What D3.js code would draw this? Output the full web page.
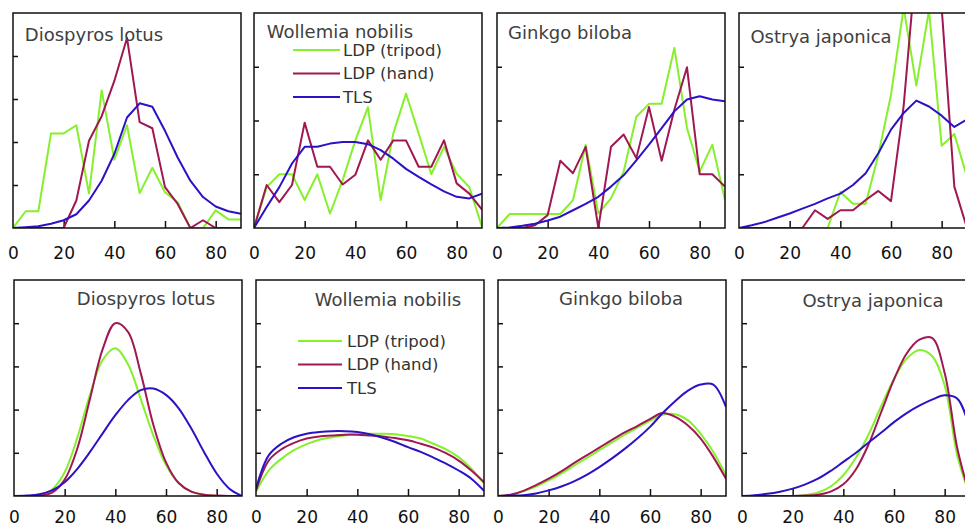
<!DOCTYPE html>
<html><head><meta charset="utf-8">
<script src="https://cdn.jsdelivr.net/npm/d3@7"></script>
<style>html,body{margin:0;padding:0;background:#fff;} svg{display:block;}</style>
</head><body><svg id="chart" width="965" height="528"></svg>
<script>
// ---------- data ----------
const angles = [0,5,10,15,20,25,30,35,40,45,50,55,60,65,70,75,80,85,90];
const xTickValues = [20,40,60,80];
const xTickLabels = [0,20,40,60,80];
const species = ["Diospyros lotus","Wollemia nobilis","Ginkgo biloba","Ostrya japonica"];
const seriesNames = ["LDP (tripod)","LDP (hand)","TLS"];

// top row: observed leaf angle frequencies (5° classes)
const obsDiospyrosTripod = [0,0.39,0.39,2.2,2.2,2.39,0.8,3.2,1.59,2.39,0.81,1.4,0.83,0.6,0,0,0.41,0.2,0.2];
const obsDiospyrosHand   = [0,0,0,0,0,0.64,2.03,2.6,3.42,4.42,2.46,2.32,0.95,0.56,0,0.18,0,0,0];
const obsDiospyrosTLS    = [0,0.02,0.04,0.1,0.18,0.32,0.64,1.1,1.72,2.57,2.9,2.82,2.26,1.64,1.1,0.72,0.5,0.39,0.33];

const obsWollemiaTripod = [0,0.76,1.0,1.0,0.52,1.0,0.27,0.89,1.63,2.25,0.52,1.76,2.5,1.76,1.0,1.51,1.01,0.76,0.02];
const obsWollemiaHand   = [0,0.8,0.48,0.8,1.96,1.14,1.14,0.81,0.99,1.63,1.27,1.63,1.63,1.14,1.14,1.63,0.83,0.64,0.34];
const obsWollemiaTLS    = [0,0.39,0.76,1.2,1.51,1.51,1.57,1.6,1.6,1.56,1.45,1.29,1.1,0.95,0.81,0.68,0.58,0.55,0.64];

const obsGinkgoTripod = [0,0.26,0.26,0.26,0.26,0.26,0.52,1.55,0.27,0.55,1.05,2.07,2.31,2.31,3.35,1.86,1.05,1.55,0.52];
const obsGinkgoHand   = [0,0,0,0.05,0.24,1.25,1.02,1.51,0,1.51,1.74,1.3,2.25,1.25,2.2,2.99,1.0,1.0,0.77];
const obsGinkgoTLS    = [0,0.01,0.04,0.08,0.14,0.21,0.33,0.45,0.58,0.77,0.98,1.26,1.55,1.86,2.17,2.39,2.45,2.39,2.36];

const obsOstryaTripod = [0,0,0,0,0,0,0,0,0.67,0.45,0.45,1.36,2.48,4.1,2.65,4.05,1.53,1.75,0.95];
const obsOstryaHand   = [0,0,0,0,0,0,0.33,0.17,0.33,0.33,0.52,0.69,0.5,2.27,5.0,5.5,4.1,0.77,0];
const obsOstryaTLS    = [0,0.05,0.11,0.19,0.27,0.36,0.45,0.55,0.64,0.8,1.02,1.39,1.83,2.14,2.37,2.26,2.09,1.88,2.02];

// bottom row: fitted distributions
const fitDiospyrosTripod = [0,0,0.02,0.15,0.55,1.35,2.35,3.15,3.42,3.05,2.25,1.4,0.72,0.3,0.1,0.03,0,0,0];
const fitDiospyrosHand   = [0,0,0.01,0.08,0.38,1.1,2.25,3.4,4.0,3.8,2.85,1.65,0.78,0.3,0.1,0.03,0.01,0,0];
const fitDiospyrosTLS    = [0,0.01,0.04,0.13,0.32,0.63,1.02,1.45,1.87,2.22,2.45,2.49,2.34,2.03,1.56,1.02,0.52,0.17,0];

const fitWollemiaTripod = [0.1,0.59,0.86,1.06,1.2,1.3,1.36,1.4,1.43,1.44,1.44,1.43,1.39,1.33,1.21,1.08,0.9,0.63,0.29];
const fitWollemiaHand   = [0.13,0.82,1.08,1.23,1.33,1.38,1.4,1.42,1.42,1.4,1.38,1.34,1.29,1.21,1.12,0.99,0.82,0.59,0.32];
const fitWollemiaTLS    = [0.17,0.94,1.21,1.36,1.44,1.48,1.5,1.5,1.48,1.43,1.35,1.25,1.13,1.02,0.89,0.75,0.59,0.4,0.12];

const fitGinkgoTripod = [0,0.03,0.11,0.22,0.36,0.52,0.7,0.88,1.06,1.24,1.42,1.58,1.74,1.88,1.89,1.75,1.44,1.02,0.48];
const fitGinkgoHand   = [0,0.03,0.12,0.25,0.4,0.57,0.76,0.94,1.12,1.3,1.47,1.62,1.78,1.92,1.83,1.63,1.33,0.9,0.4];
const fitGinkgoTLS    = [0,0.01,0.02,0.06,0.13,0.22,0.34,0.49,0.67,0.87,1.09,1.33,1.6,1.92,2.2,2.44,2.58,2.58,2.06];

const fitOstryaTripod = [0,0,0,0,0,0.02,0.08,0.22,0.48,0.89,1.43,2.09,2.71,3.18,3.38,3.24,2.56,0.93,0];
const fitOstryaHand   = [0,0,0,0,0,0.01,0.03,0.1,0.27,0.62,1.2,1.95,2.7,3.3,3.62,3.66,2.85,1.1,0];
const fitOstryaTLS    = [0,0.02,0.05,0.1,0.17,0.27,0.4,0.58,0.79,1.0,1.24,1.47,1.71,1.92,2.09,2.23,2.33,2.25,1.55];

const topSeries = [
  [obsDiospyrosTripod, obsDiospyrosHand, obsDiospyrosTLS],
  [obsWollemiaTripod, obsWollemiaHand, obsWollemiaTLS],
  [obsGinkgoTripod, obsGinkgoHand, obsGinkgoTLS],
  [obsOstryaTripod, obsOstryaHand, obsOstryaTLS]
];
const bottomSeries = [
  [fitDiospyrosTripod, fitDiospyrosHand, fitDiospyrosTLS],
  [fitWollemiaTripod, fitWollemiaHand, fitWollemiaTLS],
  [fitGinkgoTripod, fitGinkgoHand, fitGinkgoTLS],
  [fitOstryaTripod, fitOstryaHand, fitOstryaTLS]
];
const topYMax = [5,4,4,4];
const bottomYMax = [5,5,5,5];

// ---------- styles / layout ----------
const colors = ["#86f02c","#a01852","#2a12c6"];
const W = 228;
const topLefts = [13,254,497,739];
const bottomLefts = [14,256,498,742];
const topRow = {y0:13, y1:228, labelPad:19};
const bottomRow = {y0:280, y1:496, labelPad:15};
const topTitlePos = [[94,35],[340,32],[570,33],[821,37]];
const bottomTitlePos = [[146,299],[388,300],[621,299],[873,301]];

const svg = d3.select("#chart");
svg.append("rect").attr("width",965).attr("height",528).attr("fill","#fff");
const defs = svg.append("defs");
const FONT = "'DejaVu Sans', Verdana, sans-serif";

function panel(idx, left, row, yMax, seriesList, curve, titlePos, rowName, legendPos) {
  const x = d3.scaleLinear().domain([0,90]).range([left, left+W]);
  const y = d3.scaleLinear().domain([0,yMax]).range([row.y1, row.y0]);
  const g = svg.append("g");
  const clipId = "clip-"+rowName+idx;
  defs.append("clipPath").attr("id",clipId).append("rect")
    .attr("x",left).attr("y",row.y0).attr("width",W).attr("height",row.y1-row.y0);

  // ticks (inward)
  const xAxis = g.append("g").attr("transform",`translate(0,${row.y1})`)
    .call(d3.axisBottom(x).tickValues(xTickValues).tickSize(-7).tickFormat(""));
  xAxis.select(".domain").remove();
  xAxis.selectAll("line").attr("stroke","#111").attr("stroke-width",1.5);
  const yAxis = g.append("g").attr("transform",`translate(${left},0)`)
    .call(d3.axisLeft(y).tickValues(d3.range(1,yMax)).tickSize(-5).tickFormat(""));
  yAxis.select(".domain").remove();
  yAxis.selectAll("line").attr("stroke","#111").attr("stroke-width",1.5);

  // tick labels
  const lab = g.append("g").attr("transform",`translate(0,${row.y1})`)
    .call(d3.axisBottom(x).tickValues(xTickLabels).tickSize(0).tickPadding(row.labelPad));
  lab.select(".domain").remove();
  lab.selectAll("text").attr("font-family",FONT).attr("font-size",17).attr("fill","#111");

  // lines
  const lineGen = d3.line().x((d,i)=>x(angles[i])).y(d=>y(d)).curve(curve);
  const lg = g.append("g").attr("clip-path",`url(#${clipId})`);
  seriesList.forEach((vals,k)=>{
    lg.append("path").datum(vals).attr("d",lineGen)
      .attr("fill","none").attr("stroke",colors[k]).attr("stroke-width",2)
      .attr("stroke-linejoin","round");
  });

  // frame
  g.append("rect").attr("x",left).attr("y",row.y0).attr("width",W).attr("height",row.y1-row.y0)
    .attr("fill","none").attr("stroke","#111").attr("stroke-width",1.5);

  // title
  g.append("text").attr("x",titlePos[0]).attr("y",titlePos[1]).attr("dy","0.36em")
    .attr("text-anchor","middle").attr("font-family",FONT).attr("font-size",18)
    .attr("fill","#404040").text(species[idx]);

  if (legendPos) {
    seriesNames.forEach((name,k)=>{
      const ly = legendPos.y + k*legendPos.dy;
      g.append("line").attr("x1",legendPos.x1).attr("x2",legendPos.x2)
        .attr("y1",ly).attr("y2",ly).attr("stroke",colors[k]).attr("stroke-width",2);
      g.append("text").attr("x",legendPos.tx).attr("y",ly).attr("dy","0.36em")
        .attr("font-family",FONT).attr("font-size",16.5).attr("fill","#333").text(name);
    });
  }
}

for (let i=0;i<4;i++) {
  panel(i, topLefts[i], topRow, topYMax[i], topSeries[i], d3.curveLinear, topTitlePos[i], "top",
    i===1 ? {x1:293,x2:340,tx:343,y:50,dy:23.5} : null);
  panel(i, bottomLefts[i], bottomRow, bottomYMax[i], bottomSeries[i], d3.curveCatmullRom.alpha(0.5), bottomTitlePos[i], "bot",
    i===1 ? {x1:298,x2:342,tx:347,y:341,dy:23.5} : null);
}
</script></body></html>
